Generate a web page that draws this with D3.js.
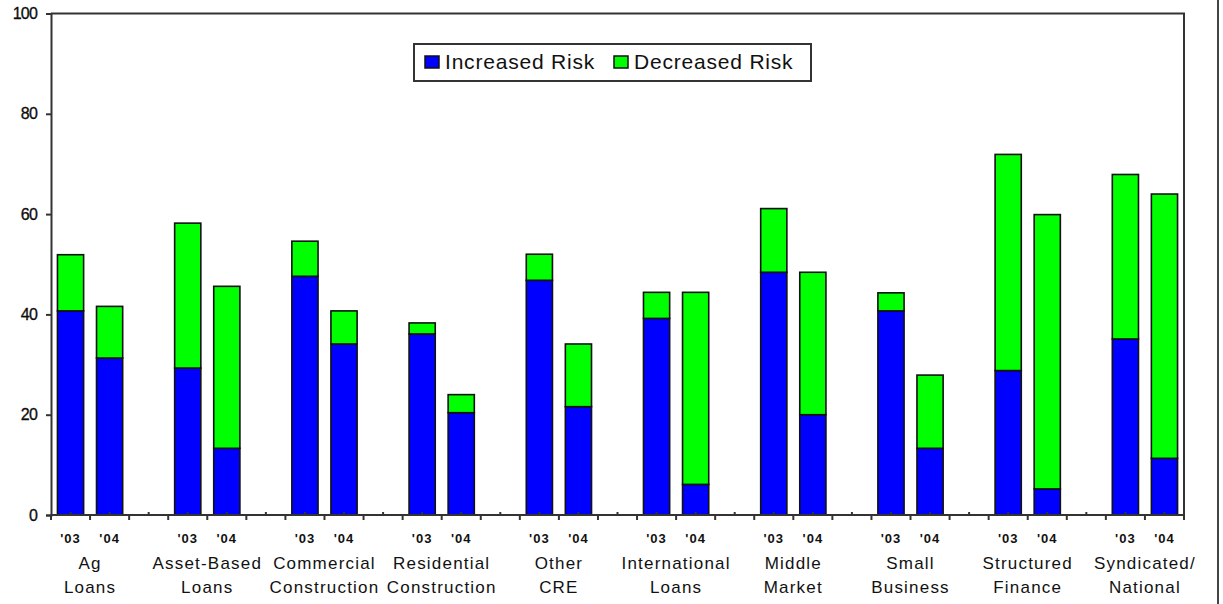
<!DOCTYPE html>
<html>
<head>
<meta charset="utf-8">
<script src="https://cdn.jsdelivr.net/npm/d3@7"></script>
<style>
  html, body { margin: 0; padding: 0; background: #fff; }
  svg { display: block; }
  text { font-family: "Liberation Sans", Arial, sans-serif; fill: #111; }
</style>
</head>
<body>
<svg id="chart" width="1223" height="604"></svg>
<script>
// ---- data ----
const categories = [
  ["Ag", "Loans"],
  ["Asset-Based", "Loans"],
  ["Commercial", "Construction"],
  ["Residential", "Construction"],
  ["Other", "CRE"],
  ["International", "Loans"],
  ["Middle", "Market"],
  ["Small", "Business"],
  ["Structured", "Finance"],
  ["Syndicated/", "National"]
];
const years = ["'03", "'04"];
const seriesNames = ["Increased Risk", "Decreased Risk"];
const increased03 = [40.7, 29.3, 47.6, 36.1, 46.8, 39.2, 48.4, 40.7, 28.8, 35.1];
const decreased03 = [11.2, 28.9, 7.0, 2.2, 5.2, 5.2, 12.7, 3.6, 43.1, 32.8];
const increased04 = [31.3, 13.3, 34.1, 20.4, 21.6, 6.1, 20.0, 13.3, 5.2, 11.3];
const decreased04 = [10.3, 32.3, 6.6, 3.6, 12.5, 38.3, 28.4, 14.6, 54.7, 52.7];
const yTicks = [0, 20, 40, 60, 80, 100];

// ---- layout ----
(function () {
const colors = { "Increased Risk": "#0000ff", "Decreased Risk": "#00ff00" };
const svg = d3.select("#chart");
const pLeft = 51, pRight = 1184, pTop = 13.5, pBottom = 515;

// slots: each category has '03, '04 and a gap (except the last)
const slots = [];
categories.forEach((c, i) => {
  years.forEach(yr => slots.push(i + "|" + yr));
  if (i < categories.length - 1) slots.push(i + "|gap");
});

const x = d3.scaleBand().domain(slots).range([pLeft, pRight]).paddingInner(0).paddingOuter(0);
const y = d3.scaleLinear().domain([0, 100]).range([pBottom, pTop]);

const bars = [];
categories.forEach((c, i) => {
  bars.push({ slot: i + "|'03", inc: increased03[i], dec: decreased03[i] });
  bars.push({ slot: i + "|'04", inc: increased04[i], dec: decreased04[i] });
});
const stacked = d3.stack().keys(["inc", "dec"])(bars);

const bw = x.bandwidth() * 0.67;
const off = (x.bandwidth() - bw) / 2;

// outer right border line of figure
svg.append("line").attr("x1", 1218).attr("x2", 1218).attr("y1", 0).attr("y2", 604)
  .attr("stroke", "#444").attr("stroke-width", 2);

// plot frame top & right
svg.append("path")
  .attr("d", `M${pLeft},${pTop}H${pRight}V${pBottom}`)
  .attr("fill", "none").attr("stroke", "#333").attr("stroke-width", 2);

// bars
stacked.forEach((layer, li) => {
  svg.append("g").selectAll("rect").data(layer).join("rect")
    .attr("x", d => x(d.data.slot) + off)
    .attr("width", bw)
    .attr("y", d => y(d[1]))
    .attr("height", d => y(d[0]) - y(d[1]))
    .attr("fill", colors[seriesNames[li]])
    .attr("stroke", "#111")
    .attr("stroke-width", 1.6);
});

// y axis
const yAxis = d3.axisLeft(y).tickValues(yTicks).tickSize(5).tickPadding(9).tickFormat(d3.format("d"));
const gy = svg.append("g").attr("transform", `translate(${pLeft},0)`).call(yAxis);
gy.select(".domain").attr("stroke", "#333").attr("stroke-width", 2);
gy.selectAll(".tick line").attr("stroke", "#333").attr("stroke-width", 2);
gy.selectAll(".tick text").style("font-size", "16px").style("letter-spacing", "-0.8px").attr("fill", "#000")
  .style("font-family", "'Liberation Sans', Arial, sans-serif").style("stroke", "#000").style("stroke-width", 0.3);

// x axis: boundary ticks downward
const gx = svg.append("g");
const boundaries = slots.map(s => x(s)).concat([pRight]);
gx.selectAll("line.bt").data(boundaries).join("line")
  .attr("x1", d => d).attr("x2", d => d)
  .attr("y1", pBottom).attr("y2", pBottom + 5)
  .attr("stroke", "#333").attr("stroke-width", 2);
gx.append("line").attr("x1", pLeft).attr("x2", pRight).attr("y1", pBottom).attr("y2", pBottom)
  .attr("stroke", "#333").attr("stroke-width", 2);
// small centre marks
gx.selectAll("line.ct").data(slots).join("line")
  .attr("x1", d => x(d) + x.bandwidth() / 2).attr("x2", d => x(d) + x.bandwidth() / 2)
  .attr("y1", pBottom).attr("y2", pBottom - 3)
  .attr("stroke", "#333").attr("stroke-width", 2);

// year labels
svg.append("g").selectAll("text").data(bars).join("text")
  .attr("x", d => x(d.slot) + x.bandwidth() / 2)
  .attr("y", 543)
  .attr("text-anchor", "middle")
  .style("font-size", "13px").style("font-weight", "bold").style("letter-spacing", "1px")
  .text(d => d.slot.split("|")[1]);

// category labels
const catG = svg.append("g");
categories.forEach((lines, i) => {
  const cx = (x(i + "|'03") + x(i + "|'04") + x.bandwidth()) / 2;
  const t = catG.append("text").attr("text-anchor", "middle")
    .style("font-size", "17px").style("letter-spacing", "1.2px");
  lines.forEach((ln, k) => {
    t.append("tspan").attr("x", cx).attr("y", 569 + k * 24).text(ln);
  });
});

// legend
const lg = svg.append("g");
lg.append("rect").attr("x", 414).attr("y", 44).attr("width", 397).attr("height", 37)
  .attr("fill", "#fff").attr("stroke", "#333").attr("stroke-width", 2);
const legendX = [425, 614];
seriesNames.forEach((s, i) => {
  lg.append("rect").attr("x", legendX[i]).attr("y", 56).attr("width", 14).attr("height", 12)
    .attr("fill", colors[s]).attr("stroke", "#111").attr("stroke-width", 1.5);
  lg.append("text").attr("x", legendX[i] + 20).attr("y", 69)
    .style("font-size", "21px").style("letter-spacing", "0.8px").text(s);
});
})();
</script>
</body>
</html>
